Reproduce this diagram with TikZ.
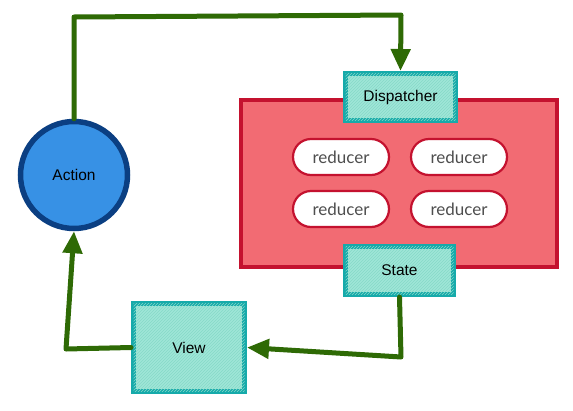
\documentclass[tikz,border=0pt]{standalone}
\usepackage{fontspec}
\setmainfont{Liberation Sans}
\newfontfamily\redfont{Lato}
\usetikzlibrary{arrows.meta,patterns}
\definecolor{flowgreen}{HTML}{2E6A05}
\definecolor{redfill}{HTML}{F26B73}
\definecolor{redline}{HTML}{C4122F}
\definecolor{tealline}{HTML}{16AAAA}
\definecolor{tealfill}{HTML}{A0E6D8}
\definecolor{tealhatch}{HTML}{86D9C8}
\definecolor{bluefill}{HTML}{3791E5}
\definecolor{blueline}{HTML}{0B3F82}
\definecolor{redtext}{HTML}{4E4E4E}
\tikzset{
  tealbox/.style={draw=tealline, line width=5pt, fill=tealfill, rectangle, inner sep=0pt,
     font=\fontsize{15.5}{18}\selectfont, text=black,
     postaction={pattern=north east lines, pattern color=tealhatch}},
  pill/.style={draw=redline, line width=2.2pt, fill=white, rounded corners=18pt,
     minimum width=96pt, minimum height=36pt, inner sep=0pt,
     font=\redfont\fontsize{17}{19}\selectfont, text=redtext},
  flow/.style={draw=flowgreen, line width=5pt, line join=round, line cap=round},
  flowarrow/.style={flow, -{Triangle[length=22pt,width=19pt]}}
}
\begin{document}
\begin{tikzpicture}[x=1pt,y=-1pt]
\useasboundingbox (0,0) rectangle (573,410);
% store / reducers container
\node[draw=redline, line width=4.5pt, fill=redfill, minimum width=316pt, minimum height=167pt, inner sep=0pt] (store) at (399,183.5) {};
\node[pill] (r1) at (341,157) {reducer};
\node[pill] (r2) at (459,157) {reducer};
\node[pill] (r3) at (341,209) {reducer};
\node[pill] (r4) at (459,209) {reducer};
% boxes
\node[tealbox, minimum width=110pt, minimum height=47pt] (disp) at (400.5,97) {Dispatcher};
\node[tealbox, minimum width=108pt, minimum height=48pt] (state) at (399.5,270.5) {State};
\node[tealbox, minimum width=111pt, minimum height=88pt] (view) at (189,347.5) {View};
% action
\node[circle, draw=blueline, line width=5.5pt, fill=bluefill, minimum size=107pt, inner sep=0pt,
  font=\fontsize{15.5}{18}\selectfont] (action) at (74,175) {Action};
% corner coordinates
\coordinate (c1) at (74,17);
\coordinate (c2) at (401,15);
\coordinate (c3) at (401,357);
\coordinate (c4) at (66,349);
% connectors
\draw[flowarrow] (action.north) -- (c1) -- (c2) -- (disp.north);
\draw[flowarrow] (state.south) -- (c3) -- (view.east);
\draw[flowarrow] (view.west) -- (c4) -- (action.south);
\end{tikzpicture}
\end{document}
